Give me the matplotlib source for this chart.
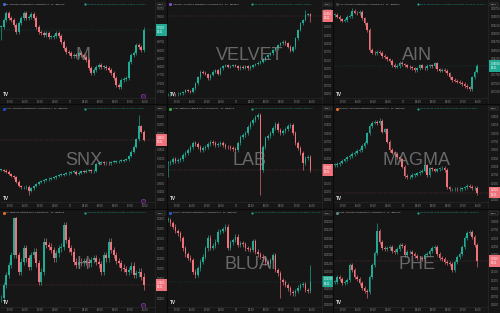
import matplotlib
matplotlib.use("Agg")
import matplotlib.pyplot as plt
import numpy as np
from matplotlib.lines import Line2D
from matplotlib.ticker import FixedLocator, FuncFormatter, MaxNLocator
from matplotlib.transforms import blended_transform_factory


# ------------------------------------------------------------
# data (30 min samples of the 15 min charts)
# ------------------------------------------------------------
SYMBOLS = ["M", "VELVET", "AIN", "SNX", "LAB", "MAGMA", "H", "BLUAI", "PHE"]

M_CLOSE = [0.920, 0.940, 0.960, 0.945, 0.940, 0.925, 0.905, 0.930, 0.945, 0.960,
           0.945, 0.950, 0.958, 0.945, 0.920, 0.905, 0.900, 0.895, 0.900, 0.890,
           0.890, 0.892, 0.900, 0.892, 0.875, 0.855, 0.845, 0.840, 0.832, 0.835,
           0.832, 0.840, 0.835, 0.830, 0.820, 0.795, 0.780, 0.790, 0.800, 0.805,
           0.800, 0.800, 0.795, 0.790, 0.780, 0.765, 0.745, 0.738, 0.760, 0.762,
           0.765, 0.815, 0.835, 0.840, 0.865, 0.860, 0.850, 0.910]

VELVET_CLOSE = [0.047, 0.047, 0.048, 0.047, 0.049, 0.050, 0.054, 0.060, 0.057, 0.054,
                0.065, 0.080, 0.098, 0.115, 0.112, 0.108, 0.095, 0.105, 0.115, 0.120,
                0.108, 0.125, 0.132, 0.135, 0.130, 0.132, 0.135, 0.132, 0.125, 0.130,
                0.127, 0.132, 0.125, 0.130, 0.135, 0.138, 0.142, 0.145, 0.152, 0.158,
                0.165, 0.170, 0.180, 0.185, 0.195, 0.200, 0.205, 0.200, 0.190, 0.178,
                0.188, 0.215, 0.240, 0.260, 0.270, 0.285, 0.288, 0.282]

AIN_CLOSE = [0.0955, 0.0950, 0.0942, 0.0938, 0.0940, 0.0950, 0.0952, 0.0968, 0.0962, 0.0960,
             0.0964, 0.0945, 0.0930, 0.0910, 0.0850, 0.0842, 0.0840, 0.0845, 0.0842, 0.0832,
             0.0828, 0.0822, 0.0818, 0.0805, 0.0800, 0.0802, 0.0812, 0.0807, 0.0804, 0.0800,
             0.0798, 0.0795, 0.0790, 0.0795, 0.0804, 0.0797, 0.0795, 0.0802, 0.0804, 0.0802,
             0.0810, 0.0792, 0.0788, 0.0790, 0.0788, 0.0780, 0.0768, 0.0760, 0.0758, 0.0755,
             0.0752, 0.0748, 0.0742, 0.0738, 0.0732, 0.0768, 0.0785, 0.0802]

SNX_CLOSE = [0.390, 0.388, 0.385, 0.378, 0.372, 0.368, 0.355, 0.342, 0.338, 0.338,
             0.340, 0.328, 0.335, 0.342, 0.348, 0.354, 0.356, 0.360, 0.362, 0.364,
             0.366, 0.368, 0.372, 0.375, 0.376, 0.378, 0.380, 0.382, 0.384, 0.385,
             0.378, 0.382, 0.386, 0.385, 0.388, 0.390, 0.386, 0.388, 0.408, 0.412,
             0.414, 0.410, 0.412, 0.410, 0.414, 0.415, 0.416, 0.417, 0.418, 0.420,
             0.422, 0.432, 0.445, 0.460, 0.482, 0.522, 0.505, 0.480]

LAB_CLOSE = [0.212, 0.215, 0.222, 0.218, 0.220, 0.224, 0.235, 0.242, 0.250, 0.260,
             0.272, 0.268, 0.260, 0.250, 0.255, 0.260, 0.268, 0.275, 0.270, 0.265,
             0.268, 0.270, 0.265, 0.260, 0.258, 0.255, 0.252, 0.250, 0.270, 0.290,
             0.295, 0.302, 0.320, 0.330, 0.340, 0.348, 0.355, 0.190, 0.260, 0.285,
             0.292, 0.300, 0.315, 0.328, 0.310, 0.302, 0.308, 0.312, 0.322, 0.324,
             0.300, 0.270, 0.255, 0.242, 0.210, 0.225, 0.228, 0.190]

MAGMA_CLOSE = [0.305, 0.308, 0.312, 0.318, 0.322, 0.328, 0.332, 0.338, 0.342, 0.348,
               0.350, 0.362, 0.372, 0.400, 0.422, 0.432, 0.434, 0.430, 0.438, 0.405,
               0.412, 0.375, 0.350, 0.342, 0.338, 0.328, 0.322, 0.300, 0.272, 0.268,
               0.270, 0.275, 0.276, 0.280, 0.285, 0.288, 0.304, 0.275, 0.295, 0.292,
               0.288, 0.292, 0.295, 0.296, 0.290, 0.238, 0.232, 0.232, 0.234, 0.232,
               0.233, 0.235, 0.238, 0.242, 0.240, 0.235, 0.236, 0.222]

H_CLOSE = [0.0600, 0.0800, 0.0950, 0.1100, 0.1250, 0.1800, 0.1250, 0.1000, 0.1150, 0.1350,
           0.1200, 0.1075, 0.1250, 0.1300, 0.1125, 0.0850, 0.1000, 0.1450, 0.1400, 0.1375,
           0.1325, 0.1200, 0.1275, 0.1350, 0.1375, 0.1700, 0.1475, 0.1350, 0.1300, 0.1150,
           0.1100, 0.1150, 0.1140, 0.1160, 0.1150, 0.1125, 0.1175, 0.1200, 0.1150, 0.1110,
           0.1000, 0.1250, 0.1200, 0.1450, 0.1325, 0.1250, 0.1160, 0.1125, 0.1060, 0.1040,
           0.1000, 0.1025, 0.1090, 0.0950, 0.0975, 0.1000, 0.0925, 0.0800]

BLUAI_CLOSE = [0.0355, 0.0345, 0.0335, 0.0322, 0.0315, 0.0300, 0.0270, 0.0252, 0.0242, 0.0235,
               0.0200, 0.0190, 0.0210, 0.0230, 0.0245, 0.0270, 0.0302, 0.0272, 0.0278, 0.0290,
               0.0320, 0.0322, 0.0328, 0.0335, 0.0272, 0.0288, 0.0295, 0.0305, 0.0280, 0.0285,
               0.0282, 0.0270, 0.0268, 0.0265, 0.0292, 0.0260, 0.0252, 0.0245, 0.0240, 0.0228,
               0.0222, 0.0235, 0.0250, 0.0205, 0.0195, 0.0175, 0.0168, 0.0160, 0.0150, 0.0138,
               0.0135, 0.0142, 0.0152, 0.0160, 0.0162, 0.0145, 0.0142, 0.0170]

PHE_CLOSE = [0.120, 0.135, 0.128, 0.115, 0.118, 0.125, 0.170, 0.155, 0.135, 0.128,
             0.115, 0.100, 0.092, 0.088, 0.135, 0.170, 0.205, 0.272, 0.240, 0.222,
             0.218, 0.220, 0.225, 0.212, 0.210, 0.218, 0.230, 0.228, 0.200, 0.208,
             0.210, 0.202, 0.198, 0.192, 0.190, 0.188, 0.200, 0.202, 0.212, 0.220,
             0.225, 0.202, 0.192, 0.188, 0.180, 0.175, 0.172, 0.155, 0.180, 0.195,
             0.202, 0.225, 0.250, 0.265, 0.270, 0.255, 0.230, 0.182]

CLOSES = [M_CLOSE, VELVET_CLOSE, AIN_CLOSE, SNX_CLOSE, LAB_CLOSE,
          MAGMA_CLOSE, H_CLOSE, BLUAI_CLOSE, PHE_CLOSE]

# typical wick length seen on each chart
WICK = [0.006, 0.004, 0.0005, 0.004, 0.006, 0.005, 0.005, 0.0007, 0.006]

# candles with long wicks: index -> (high, low), None keeps the usual wick
SPIKES = [
    {0: (None, 0.880), 57: (0.920, None)},
    {55: (0.300, None), 57: (None, 0.265)},
    {7: (0.0975, None)},
    {55: (0.555, None), 11: (None, 0.315)},
    {37: (None, 0.115), 0: (None, 0.170), 54: (None, 0.190)},
    {18: (0.445, None), 57: (None, 0.215)},
    {5: (0.1825, None), 0: (None, 0.055), 25: (0.175, None), 43: (0.150, None), 57: (None, 0.0725)},
    {0: (0.0365, None), 11: (None, 0.018), 45: (None, 0.012), 57: (0.022, None)},
    {17: (0.295, None), 13: (None, 0.070), 57: (None, 0.165)},
]

DECIMALS = [4, 4, 5, 4, 4, 4, 4, 5, 4]
ICON_COLORS = ["#3f6fd8", "#8a4fd8", "#444444", "#1f4fc8", "#3fae4f",
               "#e8702a", "#e8702a", "#2a5fd8", "#5a8a8a"]

START_HOUR = 10.25      # first candle, hours since 26th 00:00
STEP_HOUR = 0.5
TIME_TICKS = [12, 15, 18, 21, 24, 27, 30, 33, 36, 39]
COUNTDOWN = "08:21"

# plot ranges (price at bottom / top of each pane)
YLIMS = [(0.706, 0.976), (0.036, 0.306), (0.0706, 0.0976),
         (0.293, 0.563), (0.093, 0.363), (0.193, 0.463),
         (0.0475, 0.1825), (0.0095, 0.0365), (0.045, 0.315)]

# ------------------------------------------------------------
BG = "#161616"
UP = "#22ab94"
DOWN = "#f0727b"
TXT = "#8e8e8e"
SEP = "#2c2c2c"
FONT = "Liberation Sans"

W, H = 500, 313
COL_W = W / 3
ROW_H = H / 3
PLOT_W = 155
HEAD_H = 8
PLOT_H = 90


def fx(px):
    return px / W


def fy(py):
    return 1 - py / H


def time_label(h, _pos=None):
    h = int(round(h))
    if h % 24 == 0:
        return "27"
    return f"{h % 24:02d}:00"


def price_formatter(dec, last, gap):
    # the last-price tag covers the axis labels next to it
    def fmt(v, _pos=None):
        if abs(v - last) < gap:
            return ""
        return f"{v:.{dec}f}"
    return FuncFormatter(fmt)


def draw_candles(ax, closes, wick, spikes, span):
    closes = np.asarray(closes, dtype=float)
    opens = np.r_[closes[0], closes[:-1]]
    times = START_HOUR + STEP_HOUR * np.arange(len(closes))
    up = closes >= opens
    colors = np.where(up, UP, DOWN)

    high = np.maximum(opens, closes) + wick
    low = np.minimum(opens, closes) - wick
    for i, (hi, lo) in spikes.items():
        if hi is not None:
            high[i] = hi
        if lo is not None:
            low[i] = lo

    ax.vlines(times, low, high, colors=colors, linewidth=0.45)
    body = np.maximum(np.abs(closes - opens), span * 0.008)
    ax.bar(times, body, bottom=np.minimum(opens, closes), width=0.34,
           color=colors, linewidth=0)
    return opens, high, low, up


fig = plt.figure(figsize=(5.0, 3.13), dpi=100, facecolor=BG)

for k, sym in enumerate(SYMBOLS):
    r, c = divmod(k, 3)
    x0 = c * COL_W
    y0 = r * ROW_H
    closes = CLOSES[k]
    ylo, yhi = YLIMS[k]
    dec = DECIMALS[k]
    last = closes[-1]

    ax = fig.add_axes([fx(x0), fy(y0 + HEAD_H + PLOT_H), fx(PLOT_W), PLOT_H / H])
    ax.set_facecolor(BG)
    opens, high, low, up = draw_candles(ax, closes, WICK[k], SPIKES[k], yhi - ylo)
    ax.set_xlim(10.0, 41.0)
    ax.set_ylim(ylo, yhi)
    for sp in ax.spines.values():
        sp.set_visible(False)

    ax.xaxis.set_major_locator(FixedLocator(TIME_TICKS))
    ax.xaxis.set_major_formatter(FuncFormatter(time_label))
    ax.yaxis.tick_right()
    ax.yaxis.set_major_locator(MaxNLocator(nbins=11))
    ax.yaxis.set_major_formatter(
        price_formatter(dec, last, (yhi - ylo) / PLOT_H * 6.0))
    ax.tick_params(axis="both", length=0, labelsize=1.9, colors=TXT)
    ax.tick_params(axis="x", pad=1.3)
    ax.tick_params(axis="y", pad=1.6)
    for lab in ax.get_xticklabels() + ax.get_yticklabels():
        lab.set_fontfamily(FONT)

    # last price line and tag
    col = UP if up[-1] else DOWN
    ax.axhline(last, color=col, linewidth=0.35, linestyle=(0, (1, 1.5)), alpha=0.5)
    tr = blended_transform_factory(ax.transAxes, ax.transData)
    ax.text(1.014, last, f"{last:.{dec}f}\n{COUNTDOWN}", transform=tr,
            fontsize=1.8, color="white", va="center", ha="left", family=FONT,
            linespacing=1.15, clip_on=False, zorder=5,
            bbox=dict(boxstyle="square,pad=0.55", facecolor=col, edgecolor="none"))

    # watermark
    fig.text(fx(x0 + COL_W / 2), fy(y0 + 56), sym, fontsize=13, color="#8c8c8c",
             alpha=0.7, ha="center", va="center", family=FONT)

    # header line
    fig.add_artist(Line2D([fx(x0 + 3.5)], [fy(y0 + 4.2)], marker="o", markersize=2.2,
                          color=ICON_COLORS[k], markeredgewidth=0))
    fig.text(fx(x0 + 6), fy(y0 + 4.2),
             f"{sym} / TetherUS PERPETUAL CONTRACT · 15 · Binance",
             fontsize=1.7, color="#c8c8c8", va="center", ha="left", family=FONT)
    fig.add_artist(Line2D([fx(x0 + 85)], [fy(y0 + 4.2)], marker="o", markersize=1.6,
                          color=UP, markeredgewidth=0))
    ohlc = (f"O{opens[-1]:.{dec}f} H{high[-1]:.{dec}f} L{low[-1]:.{dec}f} "
            f"C{last:.{dec}f} {last - opens[-1]:+.{dec}f} "
            f"({(last - opens[-1]) / opens[-1] * 100:+.2f}%)")
    fig.text(fx(x0 + 87), fy(y0 + 4.2), ohlc, fontsize=1.7, color=UP,
             va="center", ha="left", family=FONT)

    # USDT currency tag
    fig.text(fx(x0 + 161), fy(y0 + 4.4), "USDT", fontsize=1.6, color="#d0d0d0",
             va="center", ha="center", family=FONT,
             bbox=dict(boxstyle="square,pad=0.5", facecolor=BG,
                       edgecolor="#555555", linewidth=0.3))

    # TradingView logo
    fig.text(fx(x0 + 3), fy(y0 + HEAD_H + PLOT_H - 4), "TV", fontsize=3.4,
             color="#e8e8e8", weight="bold", va="center", ha="left", family=FONT)

    if c == 0:
        fig.add_artist(Line2D([fx(x0 + 143)], [fy(y0 + 96.5)], marker="o",
                              markersize=3.2, color="#3a1a4a",
                              markeredgecolor="#8e44ad", markeredgewidth=0.4))

    # separators
    fig.add_artist(Line2D([fx(x0 + PLOT_W), fx(x0 + PLOT_W)],
                          [fy(y0), fy(y0 + ROW_H)], color=SEP, linewidth=0.4))
    fig.add_artist(Line2D([fx(x0), fx(x0 + PLOT_W)],
                          [fy(y0 + HEAD_H + PLOT_H)] * 2, color=SEP, linewidth=0.4))

for c in (1, 2):
    fig.add_artist(Line2D([fx(c * COL_W)] * 2, [0, 1], color="#0a0a0a", linewidth=0.8))
for r in (1, 2):
    fig.add_artist(Line2D([0, 1], [fy(r * ROW_H)] * 2, color="#0a0a0a", linewidth=0.8))

fig.savefig("out.png", dpi=100, facecolor=BG)
